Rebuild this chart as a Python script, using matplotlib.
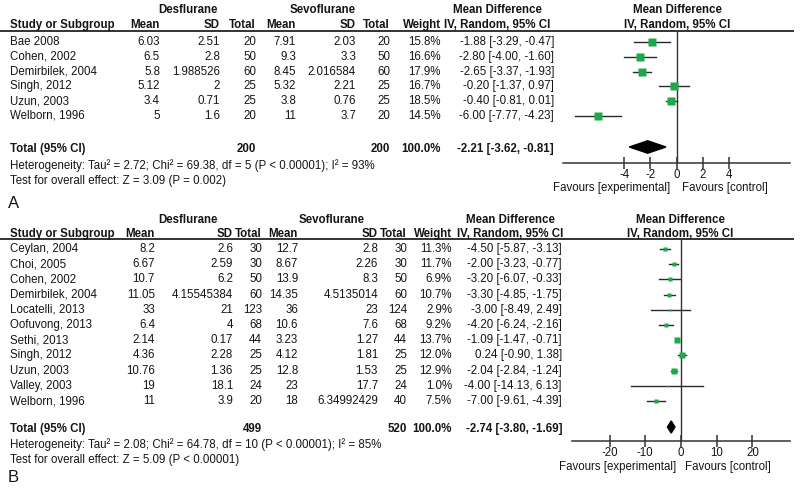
import matplotlib
matplotlib.use("Agg")
import matplotlib.pyplot as plt
from matplotlib.lines import Line2D
from matplotlib.patches import Polygon

plt.rcParams['font.family'] = ['Liberation Sans', 'DejaVu Sans']
plt.rcParams['axes.unicode_minus'] = False  # plain hyphen on tick labels, like RevMan

W, H = 800, 491
FS = 8.3
TXT = '#151515'
GREEN = '#1fa84a'

# ---- panel A data ----
studies_a = ["Bae 2008", "Cohen, 2002", "Demirbilek, 2004", "Singh, 2012", "Uzun, 2003", "Welborn, 1996"]
des_mean_a = ["6.03", "6.5", "5.8", "5.12", "3.4", "5"]
des_sd_a = ["2.51", "2.8", "1.988526", "2", "0.71", "1.6"]
des_n_a = [20, 50, 60, 25, 25, 20]
sev_mean_a = ["7.91", "9.3", "8.45", "5.32", "3.8", "11"]
sev_sd_a = ["2.03", "3.3", "2.016584", "2.21", "0.76", "3.7"]
sev_n_a = [20, 50, 60, 25, 25, 20]
weight_a = [15.8, 16.6, 17.9, 16.7, 18.5, 14.5]
md_a = [-1.88, -2.80, -2.65, -0.20, -0.40, -6.00]
lo_a = [-3.29, -4.00, -3.37, -1.37, -0.81, -7.77]
hi_a = [-0.47, -1.60, -1.93, 0.97, 0.01, -4.23]
total_a = (-2.21, -3.62, -0.81)
het_a = "Heterogeneity: Tau\u00b2 = 2.72; Chi\u00b2 = 69.38, df = 5 (P < 0.00001); I\u00b2 = 93%"
test_a = "Test for overall effect: Z = 3.09 (P = 0.002)"
ticks_a = [-4, -2, 0, 2, 4]

# ---- panel B data ----
studies_b = ["Ceylan, 2004", "Choi, 2005", "Cohen, 2002", "Demirbilek, 2004", "Locatelli, 2013",
             "Oofuvong, 2013", "Sethi, 2013", "Singh, 2012", "Uzun, 2003", "Valley, 2003", "Welborn, 1996"]
des_mean_b = ["8.2", "6.67", "10.7", "11.05", "33", "6.4", "2.14", "4.36", "10.76", "19", "11"]
des_sd_b = ["2.6", "2.59", "6.2", "4.15545384", "21", "4", "0.17", "2.28", "1.36", "18.1", "3.9"]
des_n_b = [30, 30, 50, 60, 123, 68, 44, 25, 25, 24, 20]
sev_mean_b = ["12.7", "8.67", "13.9", "14.35", "36", "10.6", "3.23", "4.12", "12.8", "23", "18"]
sev_sd_b = ["2.8", "2.26", "8.3", "4.5135014", "23", "7.6", "1.27", "1.81", "1.53", "17.7", "6.34992429"]
sev_n_b = [30, 30, 50, 60, 124, 68, 44, 25, 25, 24, 40]
weight_b = [11.3, 11.7, 6.9, 10.7, 2.9, 9.2, 13.7, 12.0, 12.9, 1.0, 7.5]
md_b = [-4.50, -2.00, -3.20, -3.30, -3.00, -4.20, -1.09, 0.24, -2.04, -4.00, -7.00]
lo_b = [-5.87, -3.23, -6.07, -4.85, -8.49, -6.24, -1.47, -0.90, -2.84, -14.13, -9.61]
hi_b = [-3.13, -0.77, -0.33, -1.75, 2.49, -2.16, -0.71, 1.38, -1.24, 6.13, -4.39]
total_b = (-2.74, -3.80, -1.69)
het_b = "Heterogeneity: Tau\u00b2 = 2.08; Chi\u00b2 = 64.78, df = 10 (P < 0.00001); I\u00b2 = 85%"
test_b = "Test for overall effect: Z = 5.09 (P < 0.00001)"
ticks_b = [-20, -10, 0, 10, 20]

fig = plt.figure(figsize=(W / 100, H / 100), dpi=100)


def fx(x):
    return x / W


def fy(y):
    return 1 - y / H


def txt(x, y, s, ha='left', bold=False, size=FS):
    fig.text(fx(x), fy(y), s, ha=ha, va='center', fontsize=size, color=TXT,
             fontweight='bold' if bold else 'normal')


def panel(lay, studies, dm, dsd, dn, sm, ssd, sn, wt, md, lo, hi, tot, het, test, ticks, lim, msc, label):
    cols = lay['cols']  # right edges of the numeric columns
    y0, dy = lay['row0'], lay['dy']
    # group headers
    txt(lay['des_c'], lay['h1'], "Desflurane", 'center', True)
    txt(lay['sev_c'], lay['h1'], "Sevoflurane", 'center', True)
    txt(lay['md_c'], lay['h1'], "Mean Difference", 'center', True)
    txt(lay['fp_c'], lay['h1'], "Mean Difference", 'center', True)
    txt(10, lay['h2'], "Study or Subgroup", 'left', True)
    for c, s in zip(cols, ["Mean", "SD", "Total", "Mean", "SD", "Total", "Weight"]):
        txt(c, lay['h2'], s, 'right', True)
    txt(lay['md_c'], lay['h2'], "IV, Random, 95% CI", 'center', True)
    txt(lay['fp_c'], lay['h2'], "IV, Random, 95% CI", 'center', True)
    fig.add_artist(Line2D([0, fx(793)], [fy(lay['line'])] * 2, color='#333333', lw=1.4))

    # study rows
    for i, st in enumerate(studies):
        y = y0 + i * dy
        txt(10, y, st)
        vals = [dm[i], dsd[i], str(dn[i]), sm[i], ssd[i], str(sn[i]), f"{wt[i]:.1f}%"]
        for c, s in zip(cols, vals):
            txt(c, y, s, 'right')
        txt(lay['ci_r'], y, f"{md[i]:.2f} [{lo[i]:.2f}, {hi[i]:.2f}]", 'right')

    # totals
    yt = lay['tot_y']
    txt(10, yt, "Total (95% CI)", bold=True)
    txt(cols[2], yt, str(sum(dn)), 'right', True)
    txt(cols[5], yt, str(sum(sn)), 'right', True)
    txt(cols[6], yt, "100.0%", 'right', True)
    txt(lay['ci_r'], yt, f"{tot[0]:.2f} [{tot[1]:.2f}, {tot[2]:.2f}]", 'right', True)
    txt(10, lay['het_y'], het)
    txt(10, lay['test_y'], test)
    txt(8, lay['lab_y'], label, size=12)

    # forest plot axes
    x0, x1 = lay['ax_x']
    top, bot = lay['line'], lay['axis_y']
    ax = fig.add_axes([fx(x0), fy(bot), fx(x1 - x0), (bot - top) / H])
    ax.set_xlim(-lim, lim)
    ax.set_ylim((bot - y0) / dy, (top - y0) / dy)
    ax.patch.set_alpha(0)
    for s in ['top', 'left', 'right']:
        ax.spines[s].set_visible(False)
    ax.spines['bottom'].set_color('#333333')
    ax.spines['bottom'].set_linewidth(1.1)
    ax.set_yticks([])
    ax.set_xticks(ticks)
    ax.tick_params(axis='x', direction='inout', length=8, width=1.1, color='#333333',
                   labelsize=FS, labelcolor=TXT, pad=0)
    ax.axvline(0, color='#333333', lw=1.0)
    for i in range(len(studies)):
        ax.plot([lo[i], hi[i]], [i, i], color='#2a2a2a', lw=1.0)
        ax.plot(md[i], i, marker='s', color=GREEN, ms=msc * wt[i] ** 0.5, mec='none', zorder=3)
    ty = (lay['tot_y'] - 2 - y0) / dy
    h = lay['dia_h']
    ax.add_patch(Polygon([(tot[1], ty), (tot[0], ty - h), (tot[2], ty), (tot[0], ty + h)],
                         closed=True, color='black'))
    txt(lay['fav'][0], lay['fav_y'], "Favours [experimental]", 'center')
    txt(lay['fav'][1], lay['fav_y'], "Favours [control]", 'center')


lay_a = dict(cols=[160, 220, 256, 296, 356, 390, 441], row0=42, dy=14.8,
             des_c=188, sev_c=323, md_c=497, fp_c=677, h1=10, h2=25, line=31,
             ci_r=554, tot_y=149, het_y=166, test_y=181, lab_y=203,
             ax_x=(563, 790), axis_y=163, dia_h=0.42, fav=(612, 725), fav_y=188)
lay_b = dict(cols=[155, 233, 262, 298, 378, 407, 452], row0=249, dy=15.2,
             des_c=188, sev_c=332, md_c=510, fp_c=680, h1=220, h2=234, line=239,
             ci_r=562, tot_y=429, het_y=445, test_y=460, lab_y=478,
             ax_x=(572, 790), axis_y=441, dia_h=0.4, fav=(618, 728), fav_y=467)

panel(lay_a, studies_a, des_mean_a, des_sd_a, des_n_a, sev_mean_a, sev_sd_a, sev_n_a,
      weight_a, md_a, lo_a, hi_a, total_a, het_a, test_a, ticks_a, 8.7, 1.5, "A")
panel(lay_b, studies_b, des_mean_b, des_sd_b, des_n_b, sev_mean_b, sev_sd_b, sev_n_b,
      weight_b, md_b, lo_b, hi_b, total_b, het_b, test_b, ticks_b, 30.5, 1.05, "B")

fig.savefig("out.png", dpi=100)
